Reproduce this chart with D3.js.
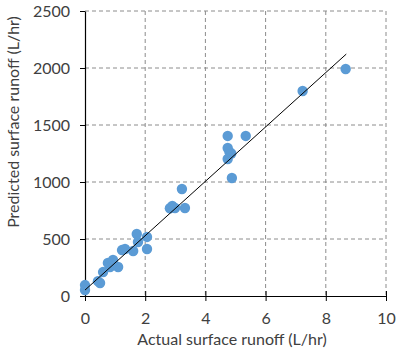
<!DOCTYPE html>
<html lang="en">
<head>
<meta charset="UTF-8">
<title>Runoff scatter</title>
<script src="https://d3js.org/d3.v7.min.js"></script>
<style>
  body { margin: 0; background: #fff; }
  text { font-family: Lato, "Open Sans", sans-serif; fill: #404040; }
</style>
</head>
<body>
<script>
// ---------- data ----------
var actual = [0, 0, 0.43, 0.5, 0.6, 0.76, 0.83, 0.93, 1.1, 1.23, 1.33, 1.6, 1.72, 1.76, 2.06, 2.06,
              2.82, 2.9, 2.99, 3.32, 3.22, 4.74, 5.34, 4.74, 4.8, 4.86, 4.74, 4.88, 7.23, 8.66];
var predicted = [96, 53, 130, 114, 210, 290, 254, 316, 254, 403, 412, 395, 544, 474, 518, 412,
                 770, 790, 772, 772, 939, 1404, 1404, 1298, 1263, 1250, 1202, 1035, 1798, 1991];
var fitX = [0, 8.68];
var fitY = [52, 2122];
var xTicks = [0, 2, 4, 6, 8, 10];
var yTicks = [0, 500, 1000, 1500, 2000, 2500];

// ---------- canvas ----------
var w = 400, h = 351;
var margin = {top: 11, right: 14, bottom: 55, left: 85};
var width = w - margin.left - margin.right;
var height = h - margin.top - margin.bottom;

var svg = d3.select("body").append("svg")
    .attr("width", w)
    .attr("height", h);
var chart = svg.append("g")
    .attr("transform", "translate(" + margin.left + "," + margin.top + ")");

// ---------- scales ----------
var x = d3.scaleLinear().domain([0, 10]).range([0, width]);
var y = d3.scaleLinear().domain([0, 2500]).range([height, 0]);

// gridlines
chart.append("g")
    .selectAll("line")
    .data(xTicks.slice(1))
    .enter().append("line")
    .attr("x1", function(d){ return x(d); })
    .attr("x2", function(d){ return x(d); })
    .attr("y1", 0).attr("y2", height)
    .attr("stroke", "#8c8c8c").attr("stroke-dasharray", "4,3");
chart.append("g")
    .selectAll("line")
    .data(yTicks.slice(1))
    .enter().append("line")
    .attr("y1", function(d){ return y(d); })
    .attr("y2", function(d){ return y(d); })
    .attr("x1", 0).attr("x2", width)
    .attr("stroke", "#8c8c8c").attr("stroke-dasharray", "4,3");

// axes
var xAxis = d3.axisBottom(x).tickValues(xTicks).tickSize(0).tickPadding(17)
    .tickFormat(d3.format("d"));
var yAxis = d3.axisLeft(y).tickValues(yTicks).tickSize(0).tickPadding(15)
    .tickFormat(d3.format("d"));

var gx = chart.append("g")
    .attr("transform", "translate(0," + height + ")")
    .call(xAxis);
var gy = chart.append("g").call(yAxis);

[gx, gy].forEach(function(g){
    g.select(".domain").attr("stroke", "#000").attr("stroke-width", 1.2);
    g.selectAll("text").style("font-size", "16px").attr("fill", "#404040");
});

// crossing tick marks
gx.selectAll(".tick").append("line")
    .attr("y1", -5).attr("y2", 5).attr("stroke", "#000");
gy.selectAll(".tick").append("line")
    .attr("x1", -5).attr("x2", 0).attr("stroke", "#000");

// ---------- points ----------
var pts = actual.map(function(v, i){ return {a: v, p: predicted[i]}; });
chart.append("g")
    .selectAll("circle")
    .data(pts)
    .enter().append("circle")
    .attr("cx", function(d){ return x(d.a); })
    .attr("cy", function(d){ return y(d.p); })
    .attr("r", 5.2)
    .attr("fill", "#5b9bd5");

// fitted line
var line = d3.line()
    .x(function(d){ return x(d[0]); })
    .y(function(d){ return y(d[1]); });
chart.append("path")
    .datum(fitX.map(function(v, i){ return [v, fitY[i]]; }))
    .attr("d", line)
    .attr("stroke", "#000")
    .attr("fill", "none")
    .attr("stroke-width", 1);

// ---------- labels ----------
svg.append("text")
    .attr("x", 232)
    .attr("y", 345)
    .attr("text-anchor", "middle")
    .style("font-size", "16px")
    .text("Actual surface runoff (L/hr)");
svg.append("text")
    .attr("transform", "translate(19,122) rotate(-90)")
    .attr("text-anchor", "middle")
    .style("font-size", "16px")
    .text("Predicted surface runoff (L/hr)");
</script>
</body>
</html>
